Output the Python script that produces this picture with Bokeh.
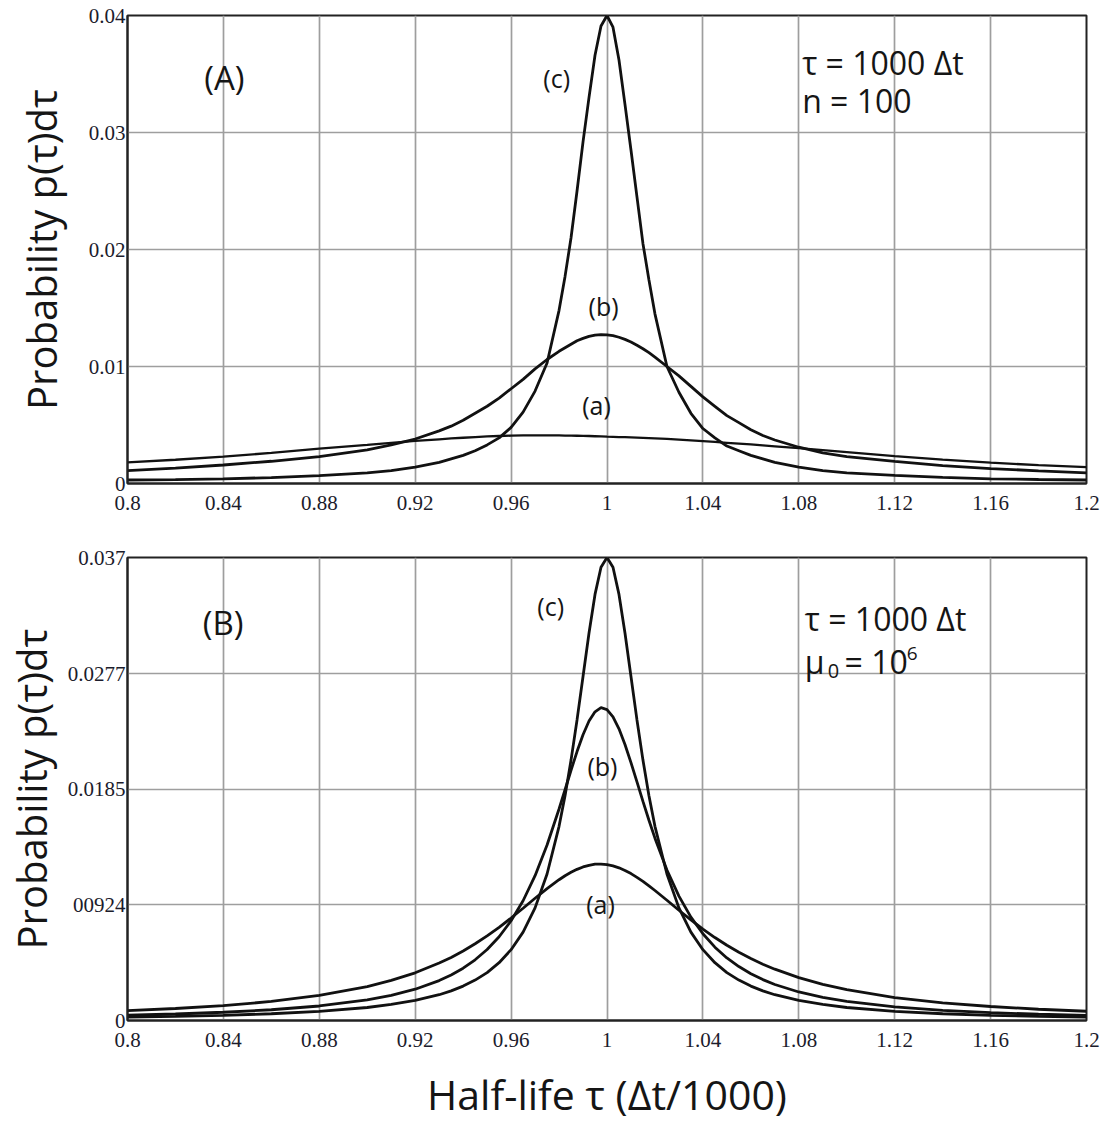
from bokeh.plotting import figure
from bokeh.layouts import column
from bokeh.models import Range1d, FixedTicker, CustomJSTickFormatter
from bokeh.core.properties import value
from bokeh.embed import file_html
from bokeh.resources import INLINE

# ---------------- data ----------------
X = [0.80, 0.82, 0.84, 0.86, 0.88, 0.90, 0.91, 0.92, 0.93, 0.935,
     0.94, 0.945, 0.95, 0.955, 0.96, 0.965, 0.97, 0.975, 0.98, 0.9825,
     0.985, 0.9875, 0.99, 0.9925, 0.995, 0.9975, 1.0, 1.0025, 1.005, 1.0075,
     1.01, 1.0125, 1.015, 1.0175, 1.02, 1.025, 1.03, 1.035, 1.04, 1.045,
     1.05, 1.055, 1.06, 1.065, 1.07, 1.08, 1.09, 1.10, 1.12, 1.14,
     1.16, 1.18, 1.20]

# Panel (A): tau = 1000 dt, n = 100
A_CURVE_A = [0.00180, 0.00203, 0.00229, 0.00262, 0.00298, 0.00330, 0.00348, 0.00364, 0.00378, 0.00385,
             0.00391, 0.00397, 0.00402, 0.00406, 0.00409, 0.00411, 0.00412, 0.00412, 0.00411, 0.00410,
             0.00409, 0.00408, 0.00407, 0.00406, 0.00404, 0.00402, 0.00400, 0.00399, 0.00397, 0.00396,
             0.00394, 0.00392, 0.00390, 0.00388, 0.00386, 0.00381, 0.00375, 0.00369, 0.00362, 0.00355,
             0.00348, 0.00341, 0.00334, 0.00326, 0.00318, 0.00302, 0.00285, 0.00268, 0.00234, 0.00204,
             0.00178, 0.00157, 0.00140]
A_CURVE_B = [0.00110, 0.00132, 0.00158, 0.00190, 0.00230, 0.00288, 0.00330, 0.00380, 0.00450, 0.00490,
             0.00540, 0.00600, 0.00660, 0.00730, 0.00810, 0.00890, 0.00980, 0.01060, 0.01130, 0.01160,
             0.01190, 0.01220, 0.01240, 0.01258, 0.01268, 0.01272, 0.01270, 0.01263, 0.01250, 0.01232,
             0.01210, 0.01182, 0.01152, 0.01118, 0.01080, 0.01000, 0.00920, 0.00830, 0.00740, 0.00660,
             0.00580, 0.00520, 0.00460, 0.00410, 0.00372, 0.00310, 0.00262, 0.00230, 0.00190, 0.00152,
             0.00128, 0.00108, 0.00090]
A_CURVE_C = [0.00030, 0.00033, 0.00040, 0.00050, 0.00068, 0.00090, 0.00110, 0.00140, 0.00180, 0.00210,
             0.00240, 0.00280, 0.00330, 0.00390, 0.00480, 0.00610, 0.00790, 0.01030, 0.01480, 0.01770,
             0.02100, 0.02500, 0.02920, 0.03300, 0.03660, 0.03910, 0.04000, 0.03900, 0.03620, 0.03240,
             0.02850, 0.02450, 0.02050, 0.01740, 0.01450, 0.01000, 0.00780, 0.00600, 0.00470, 0.00390,
             0.00320, 0.00280, 0.00240, 0.00210, 0.00180, 0.00140, 0.00110, 0.00090, 0.00070, 0.00052,
             0.00040, 0.00034, 0.00030]

# Panel (B): tau = 1000 dt, mu0 = 10^6
B_CURVE_A = [0.00079, 0.00096, 0.00119, 0.00152, 0.00200, 0.00271, 0.00320, 0.00381, 0.00459, 0.00504,
             0.00556, 0.00613, 0.00676, 0.00745, 0.00819, 0.00897, 0.00977, 0.01054, 0.01125, 0.01157,
             0.01184, 0.01208, 0.01227, 0.01240, 0.01249, 0.01250, 0.01246, 0.01236, 0.01220, 0.01199,
             0.01174, 0.01144, 0.01112, 0.01076, 0.01039, 0.00961, 0.00881, 0.00804, 0.00731, 0.00663,
             0.00601, 0.00545, 0.00495, 0.00450, 0.00410, 0.00343, 0.00289, 0.00246, 0.00183, 0.00141,
             0.00112, 0.00090, 0.00074]
B_CURVE_B = [0.00042, 0.00052, 0.00066, 0.00086, 0.00116, 0.00164, 0.00201, 0.00250, 0.00319, 0.00364,
             0.00418, 0.00485, 0.00567, 0.00669, 0.00797, 0.00957, 0.01157, 0.01402, 0.01690, 0.01844,
             0.02000, 0.02149, 0.02284, 0.02393, 0.02467, 0.02500, 0.02485, 0.02427, 0.02331, 0.02206,
             0.02061, 0.01907, 0.01751, 0.01600, 0.01457, 0.01203, 0.00994, 0.00826, 0.00693, 0.00586,
             0.00500, 0.00431, 0.00374, 0.00327, 0.00288, 0.00228, 0.00185, 0.00153, 0.00109, 0.00081,
             0.00063, 0.00050, 0.00041]
B_CURVE_C = [0.00027, 0.00033, 0.00041, 0.00054, 0.00073, 0.00104, 0.00128, 0.00160, 0.00206, 0.00237,
             0.00275, 0.00323, 0.00383, 0.00462, 0.00566, 0.00706, 0.00900, 0.01171, 0.01552, 0.01796,
             0.02081, 0.02402, 0.02749, 0.03097, 0.03405, 0.03622, 0.03700, 0.03622, 0.03405, 0.03097,
             0.02749, 0.02402, 0.02081, 0.01796, 0.01552, 0.01171, 0.00900, 0.00706, 0.00566, 0.00462,
             0.00383, 0.00323, 0.00275, 0.00237, 0.00206, 0.00160, 0.00128, 0.00104, 0.00073, 0.00054,
             0.00041, 0.00033, 0.00027]

X_TICKS = [0.8, 0.84, 0.88, 0.92, 0.96, 1.0, 1.04, 1.08, 1.12, 1.16, 1.2]
X_TICK_LABELS = ["0.8", "0.84", "0.88", "0.92", "0.96", "1", "1.04", "1.08", "1.12", "1.16", "1.2"]
YA_TICKS = [0, 0.01, 0.02, 0.03, 0.04]
YA_TICK_LABELS = ["0", "0.01", "0.02", "0.03", "0.04"]
YB_TICKS = [0, 0.00924, 0.0185, 0.0277, 0.037]
YB_TICK_LABELS = ["0", "00924", "0.0185", "0.0277", "0.037"]

X_TITLE = "Half-life τ (Δt/1000)"
Y_TITLE = "Probability p(τ)dτ"

# ---------------- styling helpers ----------------
SANS = "Open Sans"
SERIF = "Liberation Serif"
INK = "#151515"

CODE = ("let b = 0; for (let i = 0; i < vals.length; i++) {"
        " if (Math.abs(vals[i] - tick) < Math.abs(vals[b] - tick)) b = i; }"
        " return labels[b];")


def fmt(vals, labels):
    return CustomJSTickFormatter(args=dict(vals=vals, labels=labels), code=CODE)


def make_panel(height, border_top, border_bottom, border_left, border_right,
               ymax, yticks, ylabels, label_standoff, tick_standoff):
    p = figure(width=1104, height=height,
               x_range=Range1d(0.8, 1.2), y_range=Range1d(0, ymax),
               output_backend="svg", toolbar_location=None,
               min_border_top=border_top, min_border_bottom=border_bottom,
               min_border_left=border_left, min_border_right=border_right)
    p.xaxis.ticker = FixedTicker(ticks=X_TICKS)
    p.xaxis.formatter = fmt(X_TICKS, X_TICK_LABELS)
    p.yaxis.ticker = FixedTicker(ticks=yticks)
    p.yaxis.formatter = fmt(yticks, ylabels)
    for ax in (p.xaxis[0], p.yaxis[0]):
        ax.major_tick_in = 0
        ax.major_tick_out = 0
        ax.minor_tick_line_color = None
        ax.axis_line_color = "#222222"
        ax.axis_line_width = 2
        ax.major_label_text_font = SERIF
        ax.major_label_text_font_size = "21px"
        ax.major_label_text_color = "#1c1c2c"
    p.xaxis.major_label_standoff = 12
    p.yaxis.major_label_standoff = tick_standoff
    p.yaxis.axis_label = Y_TITLE
    p.yaxis.axis_label_text_font = SANS
    p.yaxis.axis_label_text_font_size = "40px"
    p.yaxis.axis_label_text_font_style = "normal"
    p.yaxis.axis_label_text_color = INK
    p.yaxis.axis_label_text_line_height = 1.0
    p.yaxis.axis_label_standoff = label_standoff
    p.grid.grid_line_color = "#9e9e9e"
    p.grid.grid_line_width = 1.7
    p.outline_line_color = "#222222"
    p.outline_line_width = 2
    p.outline_line_alpha = 1
    p.background_fill_color = "white"
    p.border_fill_color = "white"
    return p


def txt(p, x, y, s, size, align="center"):
    p.text(x=[x], y=[y], text=[s], text_font=value(SANS), text_font_size=size,
           text_align=align, text_baseline="middle", text_color=INK)


# ---------------- panel A ----------------
pa = make_panel(530, 15, 47, 125, 18, 0.04, YA_TICKS, YA_TICK_LABELS, 17, 2)
pa.line(X, A_CURVE_A, line_color="#111111", line_width=2.3)
pa.line(X, A_CURVE_B, line_color="#111111", line_width=2.8)
pa.line(X, A_CURVE_C, line_color="#111111", line_width=2.8)
txt(pa, 0.8404, 0.0347, "(A)", "33px")
txt(pa, 0.979, 0.03466, "(c)", "25px")
txt(pa, 0.9986, 0.01513, "(b)", "25px")
txt(pa, 0.9956, 0.00667, "(a)", "25px")
txt(pa, 1.0814, 0.03598, "τ = 1000 Δt", "32px", "left")
txt(pa, 1.0814, 0.03274, "n = 100", "32px", "left")

# ---------------- panel B ----------------
pb = make_panel(594, 27, 101, 125, 18, 0.037, YB_TICKS, YB_TICK_LABELS, 6, 2)
pb.line(X, B_CURVE_A, line_color="#111111", line_width=2.8)
pb.line(X, B_CURVE_B, line_color="#111111", line_width=2.8)
pb.line(X, B_CURVE_C, line_color="#111111", line_width=2.8)
pb.xaxis.axis_label = X_TITLE
pb.xaxis.axis_label_text_font = SANS
pb.xaxis.axis_label_text_font_size = "41px"
pb.xaxis.axis_label_text_font_style = "normal"
pb.xaxis.axis_label_text_color = INK
pb.xaxis.axis_label_standoff = 16
txt(pb, 0.8399, 0.03184, "(B)", "33px")
txt(pb, 0.9765, 0.03311, "(c)", "25px")
txt(pb, 0.9981, 0.02033, "(b)", "25px")
txt(pb, 0.9973, 0.00929, "(a)", "25px")
txt(pb, 1.0825, 0.03216, "τ = 1000 Δt", "32px", "left")
txt(pb, 1.0825, 0.02866, "μ", "32px", "left")
txt(pb, 1.0921, 0.02795, "0", "20px", "left")
txt(pb, 1.0991, 0.02866, "= 10", "32px", "left")
txt(pb, 1.1250, 0.02930, "6", "19px", "left")

layout = column(pa, pb, spacing=0)
open("out.html", "w").write(file_html(layout, INLINE))
